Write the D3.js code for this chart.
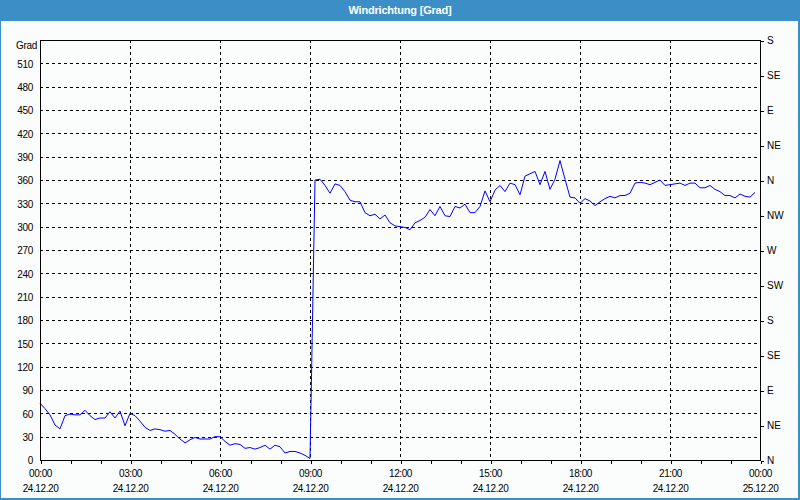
<!DOCTYPE html>
<html>
<head>
<meta charset="utf-8">
<script src="https://cdn.jsdelivr.net/npm/d3@7"></script>
<style>
  html, body { margin: 0; padding: 0; background: #fff; }
  svg { display: block; }
</style>
</head>
<body>
<svg id="chart" width="800" height="500"></svg>
<script>
// ---------- data ----------
const chartTitle = "Windrichtung [Grad]";
const unitLabel = "Grad";
const startTime = "2020-12-24T00:00:00";
const endTime = "2020-12-25T00:00:00";
const stepMinutes = 10;
// wind direction (degrees, unwrapped) every 10 minutes from 00:00
const values = [
  73,66,58,45,40,57,59,58,58,64,57,52,54,54,62,54,63,44,60,57,
  50,42,38,40,39,37,38,33,27,22,26,29,27,27,27,30,30,24,19,21,
  20,15,16,14,16,19,14,19,17,9,11,11,9,6,2,
  360,361,353,343,355,353,345,334,332,332,
  318,314,316,310,315,305,301,300,299,296,
  305,308,312,322,314,326,314,313,326,324,
  329,318,318,326,346,332,347,353,345,356,
  354,341,365,368,371,354,371,348,361,385,
  361,338,337,330,336,333,327,332,336,339,
  337,340,340,343,356,357,356,354,357,360,
  353,354,355,356,353,356,356,350,350,353,
  348,345,340,340,337,342,339,338,344
];
// extra samples during the jump after 09:00 (minutes after midnight)
const jumpMinutes = [541, 543, 545, 547, 549];
const jumpValues  = [38, 107, 180, 253, 324];

const leftTickValues = [0,30,60,90,120,150,180,210,240,270,300,330,360,390,420,450,480,510];
const rightTickValues = [0,45,90,135,180,225,270,315,360,405,450,495,540];
const rightTickLabels = ["N","NE","E","SE","S","SW","W","NW","N","NE","E","SE","S"];
const timeTickLabels = ["00:00","03:00","06:00","09:00","12:00","15:00","18:00","21:00","00:00"];
const dateTickLabels = ["24.12.20","24.12.20","24.12.20","24.12.20","24.12.20","24.12.20","24.12.20","24.12.20","25.12.20"];

// ---------- setup ----------
const W = 800, H = 500;
const plot = { left: 40, right: 760, top: 40, bottom: 460 };
const svg = d3.select("#chart");
const font = "'Liberation Sans', Arial, sans-serif";

const t0 = new Date(startTime), t1 = new Date(endTime);
const x = d3.scaleTime().domain([t0, t1]).range([plot.left, plot.right]);
const y = d3.scaleLinear().domain([0, 540]).range([plot.bottom, plot.top]);

// points
const pts = values.map((v, i) => ({ t: new Date(t0.getTime() + i * stepMinutes * 60000), v }));
jumpMinutes.forEach((m, i) => pts.push({ t: new Date(t0.getTime() + m * 60000), v: jumpValues[i] }));
pts.sort((a, b) => a.t - b.t);

// background & window frame
svg.append("rect").attr("x", 0).attr("y", 0).attr("width", W).attr("height", H).attr("fill", "#3c8fc6");
svg.append("rect").attr("x", 1).attr("y", 21).attr("width", W - 3).attr("height", H - 23).attr("fill", "#fbfdfc");

svg.append("text")
  .attr("x", W / 2).attr("y", 13.5)
  .attr("text-anchor", "middle")
  .attr("fill", "#ffffff")
  .attr("font-family", font)
  .attr("font-weight", "bold")
  .attr("font-size", "11px")
  .attr("letter-spacing", "-0.2px")
  .text(chartTitle);

// grid
const threeHourTicks = d3.timeHour.every(3).range(t0, d3.timeMinute.offset(t1, 1));
const grid = svg.append("g").attr("stroke", "#000").attr("stroke-width", 1)
  .attr("stroke-dasharray", "3,3").attr("shape-rendering", "crispEdges");
grid.selectAll("line.h").data(leftTickValues.filter(v => v > 0)).join("line")
  .attr("x1", plot.left).attr("x2", plot.right)
  .attr("y1", d => Math.round(y(d)) + 0.5).attr("y2", d => Math.round(y(d)) + 0.5);
grid.selectAll("line.v").data(threeHourTicks.slice(1, -1)).join("line")
  .attr("y1", plot.top).attr("y2", plot.bottom)
  .attr("x1", d => Math.round(x(d)) + 0.5).attr("x2", d => Math.round(x(d)) + 0.5);

// data line
svg.append("path")
  .datum(pts)
  .attr("fill", "none")
  .attr("stroke", "#0000ff")
  .attr("stroke-width", 1)
  .attr("d", d3.line().x(d => x(d.t)).y(d => y(d.v)));

// frame
svg.append("rect")
  .attr("x", plot.left + 0.5).attr("y", plot.top + 0.5)
  .attr("width", plot.right - plot.left).attr("height", plot.bottom - plot.top)
  .attr("fill", "none").attr("stroke", "#000").attr("stroke-width", 1)
  .attr("shape-rendering", "crispEdges");

function styleAxis(g) {
  g.attr("font-family", font).attr("font-size", "10px");
  g.select(".domain").remove();
  g.selectAll(".tick line").attr("stroke", "#000").attr("shape-rendering", "crispEdges");
  g.selectAll(".tick text").attr("fill", "#000");
}

// left axis
const yLeft = svg.append("g").attr("transform", `translate(${plot.left},0.5)`)
  .call(d3.axisLeft(y).tickValues(leftTickValues).tickSize(0).tickPadding(7).tickFormat(d3.format("d")));
styleAxis(yLeft);
yLeft.selectAll(".tick text").attr("letter-spacing", "-0.3px");

svg.append("text")
  .attr("x", 37).attr("y", 48.5)
  .attr("text-anchor", "end")
  .attr("font-family", font).attr("font-size", "10px").attr("letter-spacing", "-0.3px")
  .attr("fill", "#000")
  .text(unitLabel);

// right axis
const yRight = svg.append("g").attr("transform", `translate(${plot.right + 1},0.5)`)
  .call(d3.axisRight(y).tickValues(rightTickValues).tickSize(3).tickPadding(3)
    .tickFormat((d, i) => rightTickLabels[i]));
styleAxis(yRight);

// bottom axis: hourly minor ticks
const xMinor = svg.append("g").attr("transform", `translate(0.5,${plot.bottom + 1})`)
  .call(d3.axisBottom(x).ticks(d3.timeHour.every(1)).tickSize(3).tickFormat(""));
styleAxis(xMinor);

// bottom axis: labels every 3 hours, two lines
const xLabels = svg.append("g").attr("transform", `translate(0,${plot.bottom})`)
  .call(d3.axisBottom(x).tickValues(threeHourTicks).tickSize(0).tickPadding(0)
    .tickFormat((d, i) => timeTickLabels[i]));
styleAxis(xLabels);
xLabels.selectAll(".tick text").each(function(d, i) {
  const t = d3.select(this);
  t.text(null).attr("y", 0).attr("dy", null).attr("letter-spacing", "-0.4px");
  t.append("tspan").attr("x", 0).attr("y", 17).text(timeTickLabels[i]);
  t.append("tspan").attr("x", 0).attr("y", 32).text(dateTickLabels[i]);
});
</script>
</body>
</html>
